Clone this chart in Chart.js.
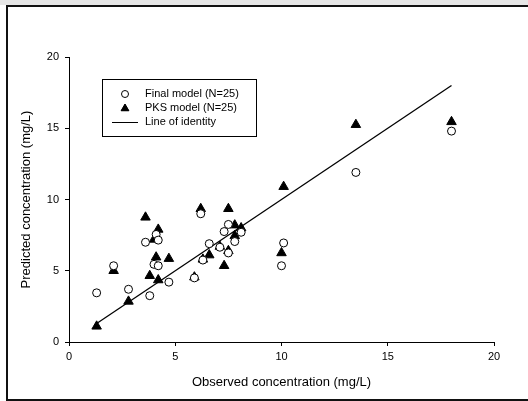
<!DOCTYPE html>
<html>
<head>
<meta charset="utf-8">
<script src="https://cdn.jsdelivr.net/npm/chart.js@4.4.1/dist/chart.umd.min.js"></script>
<style>
  html, body { margin: 0; padding: 0; background: #fff; }
  #wrap { position: absolute; left: 0; top: 0; width: 528px; height: 401px; overflow: hidden; }
  #band { position: absolute; left: 0; top: 0; width: 528px; height: 5px; background: #e6e6e6; }
  #frame { position: absolute; left: 6px; top: 5px; width: 530px; height: 392px; border: 2px solid #111; border-right: none; background: #fff; }
  canvas { position: absolute; left: 0; top: 0; }
</style>
</head>
<body>
<div id="wrap">
  <div id="band"></div>
  <div id="frame"></div>
  <canvas id="chart" width="528" height="401"></canvas>
</div>
<script>
// observed vs predicted concentrations (mg/L)
const finalObs  = [1.3, 2.1, 2.8, 3.8, 3.6, 4.1, 4.2, 4.0, 4.2, 4.7, 5.9, 6.2, 6.3, 6.6, 7.1, 7.3, 7.5, 7.5, 7.8, 8.1, 10.0, 10.1, 13.5, 18.0];
const finalPred = [3.45, 5.35, 3.7, 3.25, 7.0, 7.55, 7.15, 5.45, 5.35, 4.2, 4.5, 9.0, 5.75, 6.9, 6.65, 7.75, 8.25, 6.25, 7.05, 7.7, 5.35, 6.95, 11.9, 14.8];

const pksObs  = [1.3, 2.1, 2.8, 3.6, 3.8, 4.0, 4.2, 4.1, 4.2, 4.7, 5.9, 6.2, 6.3, 6.6, 7.1, 7.3, 7.5, 7.5, 7.8, 7.8, 8.1, 10.0, 10.1, 13.5, 18.0];
const pksPred = [1.1, 5.0, 2.85, 8.75, 4.65, 7.2, 7.9, 5.95, 4.35, 5.85, 4.55, 9.35, 5.8, 6.1, 6.7, 5.35, 9.35, 6.4, 8.2, 7.45, 8.0, 6.25, 10.9, 15.25, 15.45];

const identityX = [1.3, 18];

const axisTicks = [0, 5, 10, 15, 20];
const legendLabels = ['Final model (N=25)', 'PKS model (N=25)', 'Line of identity'];

const toPoints = (xs, ys) => xs.map((x, i) => ({ x: x, y: ys[i] }));

// legend box drawn inside the plot, like the original figure
const boxLegend = {
    id: 'boxLegend',
    afterDraw(chart) {
        const ctx = chart.ctx;
        const x0 = 102, y0 = 79, w = 154, h = 57;
        ctx.save();
        ctx.fillStyle = '#fff';
        ctx.fillRect(x0, y0, w, h);
        ctx.strokeStyle = '#000';
        ctx.lineWidth = 1;
        ctx.strokeRect(x0 + 0.5, y0 + 0.5, w, h);

        ctx.font = '11px "Liberation Sans", Arial, sans-serif';
        ctx.fillStyle = '#000';
        ctx.textBaseline = 'middle';
        const rows = [94, 108, 122];
        legendLabels.forEach((t, i) => ctx.fillText(t, 145, rows[i]));

        // circle
        ctx.beginPath();
        ctx.arc(125, rows[0], 3.5, 0, Math.PI * 2);
        ctx.stroke();
        // triangle
        Chart.helpers.drawPoint(ctx, { pointStyle: 'triangle', radius: 4.5, borderWidth: 1 }, 125, rows[1] + 0.5);
        ctx.fill();
        // line
        ctx.beginPath();
        ctx.moveTo(112, rows[2] + 0.5);
        ctx.lineTo(138, rows[2] + 0.5);
        ctx.stroke();
        ctx.restore();
    }
};

const ctx = document.getElementById('chart').getContext('2d');
const chart = new Chart(ctx, {
    type: 'scatter',
    data: {
        datasets: [
            {
                label: legendLabels[0],
                data: toPoints(finalObs, finalPred),
                pointStyle: 'circle',
                pointRadius: 4,
                pointBackgroundColor: '#fff',
                pointBorderColor: '#000',
                pointBorderWidth: 1
            },
            {
                label: legendLabels[1],
                data: toPoints(pksObs, pksPred),
                pointStyle: 'triangle',
                pointRadius: 5.5,
                pointBackgroundColor: '#000',
                pointBorderColor: '#000',
                pointBorderWidth: 1
            },
            {
                label: legendLabels[2],
                type: 'line',
                data: toPoints(identityX, identityX),
                borderColor: '#000',
                borderWidth: 1.3,
                pointRadius: 0,
                fill: false
            }
        ]
    },
    options: {
        responsive: false,
        animation: false,
        layout: {
            padding: { left: 7, right: 34, top: 57, bottom: 7 }
        },
        plugins: {
            legend: { display: false },
            tooltip: { enabled: false }
        },
        scales: {
            x: {
                min: 0,
                max: 20,
                afterBuildTicks: (s) => { s.ticks = axisTicks.map(v => ({ value: v })); },
                afterFit: (s) => { s.height = 52; },
                grid: { drawOnChartArea: false, drawTicks: true, tickLength: 4, color: '#000' },
                border: { color: '#000', width: 1 },
                ticks: {
                    color: '#000',
                    padding: 4,
                    maxRotation: 0,
                    font: { family: '"Liberation Sans", Arial, sans-serif', size: 11 }
                },
                title: {
                    display: true,
                    text: 'Observed concentration (mg/L)',
                    color: '#000',
                    padding: { top: 4, bottom: 4 },
                    font: { family: '"Liberation Sans", Arial, sans-serif', size: 13 }
                }
            },
            y: {
                min: 0,
                max: 20,
                afterBuildTicks: (s) => { s.ticks = axisTicks.map(v => ({ value: v })); },
                afterFit: (s) => { s.width = 62; },
                grid: { drawOnChartArea: false, drawTicks: true, tickLength: 4, color: '#000' },
                border: { color: '#000', width: 1 },
                ticks: {
                    color: '#000',
                    padding: 6,
                    font: { family: '"Liberation Sans", Arial, sans-serif', size: 11 }
                },
                title: {
                    display: true,
                    text: 'Predicted concentration (mg/L)',
                    color: '#000',
                    padding: { top: 12, bottom: 0 },
                    font: { family: '"Liberation Sans", Arial, sans-serif', size: 13 }
                }
            }
        }
    },
    plugins: [boxLegend]
});
</script>
</body>
</html>
